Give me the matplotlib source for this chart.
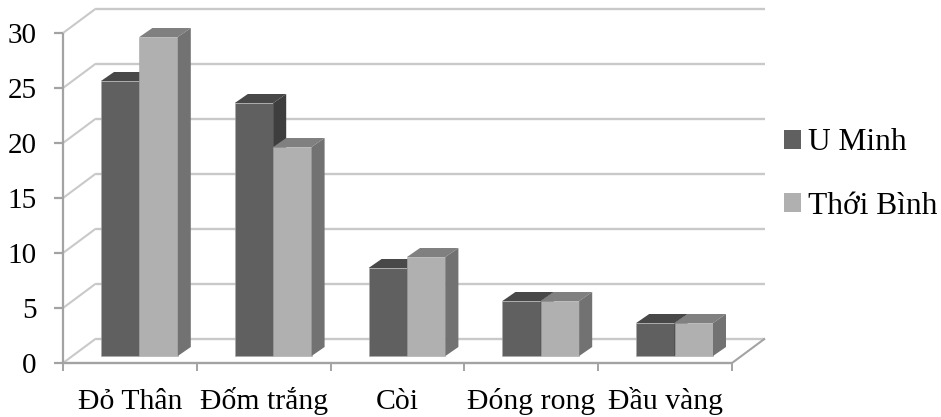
import matplotlib
matplotlib.use("Agg")
import matplotlib.pyplot as plt
from matplotlib.patches import Patch, Polygon

plt.rcParams["font.family"] = ["Liberation Serif", "DejaVu Sans"]

categories = ["Đỏ Thân", "Đốm trắng", "Còi", "Đóng rong", "Đầu vàng"]
u_minh = [25, 23, 8, 5, 3]
thoi_binh = [29, 19, 9, 5, 3]
y_ticks = [0, 5, 10, 15, 20, 25, 30]

W, H = 941, 417
LEFT, RIGHT, BOTTOM, TOP = 63, 732, 363, 33

fig = plt.figure(figsize=(W / 100, H / 100), dpi=100, facecolor="white")
ax = fig.add_axes([LEFT / W, 1 - BOTTOM / H, (RIGHT - LEFT) / W, (BOTTOM - TOP) / H])
ax.set_xlim(0, len(categories))
ax.set_ylim(0, 30)
ax.axis("off")

# Pixel sizes expressed in data units for the oblique projection
px_x = len(categories) / (RIGHT - LEFT)
px_y = 30 / (BOTTOM - TOP)
wall_dx, wall_dy = 33 * px_x, 24.5 * px_y
bar_dx, bar_dy = 13 * px_x, 9 * px_y
floor = 7 * px_y
bar_w = 38.4 * px_x
first_bar = 38 * px_x

GRID = "#c9c9c9"
AXIS = "#a3a3a3"
n = len(categories)


def line(xs, ys, color, lw=1.5, z=1):
    ax.plot(xs, ys, color=color, lw=lw, zorder=z, clip_on=False, solid_capstyle="butt")


# Back wall gridlines, left wall diagonals and the floor outline
for v in y_ticks:
    line([0, wall_dx], [v, v + wall_dy], GRID, 1.5, 1)
    line([wall_dx, n + wall_dx], [v + wall_dy, v + wall_dy], GRID, 1.7, 1)
    line([-9 * px_x, 0], [v, v], AXIS, 1.6, 2)
line([n, n + wall_dx], [0, wall_dy], AXIS, 1.5, 2)
line([0, 0], [0, 30], AXIS, 1.6, 2)
line([0, n], [0, 0], AXIS, 1.7, 2)
for i in range(n + 1):
    line([i, i], [0, -8 * px_y], AXIS, 1.4, 2)


def draw_bar(x, value, face, top, side, z):
    y0, y1 = floor, floor + value
    ax.bar(x, value, width=bar_w, bottom=y0, align="edge", color=face,
           edgecolor="#a8a8a8", linewidth=0.4, zorder=z, clip_on=False)
    ax.add_patch(Polygon([(x, y1), (x + bar_dx, y1 + bar_dy),
                          (x + bar_w + bar_dx, y1 + bar_dy), (x + bar_w, y1)],
                         facecolor=top, edgecolor="none", zorder=z, clip_on=False))
    ax.add_patch(Polygon([(x + bar_w, y0), (x + bar_w + bar_dx, y0 + bar_dy),
                          (x + bar_w + bar_dx, y1 + bar_dy), (x + bar_w, y1)],
                         facecolor=side, edgecolor="none", zorder=z, clip_on=False))


for i in range(n):
    x = i + first_bar
    draw_bar(x, u_minh[i], "#606060", "#484848", "#3e3e3e", 3 + i)
    draw_bar(x + bar_w, thoi_binh[i], "#b0b0b0", "#808080", "#727272", 3.5 + i)

for v in y_ticks:
    ax.text(-26.5 * px_x, v, str(v), ha="right", va="center_baseline",
            fontsize=21, color="black", clip_on=False)
for i, label in enumerate(categories):
    ax.text(i + 0.5, -46 * px_y, label, ha="center", va="baseline",
            fontsize=21.4, color="black", clip_on=False)

handles = [Patch(facecolor="#606060", label="U Minh"),
           Patch(facecolor="#b0b0b0", label="Thới Bình")]
fig.legend(handles=handles, loc="center left", bbox_to_anchor=(784 / W, 1 - 174.5 / H),
           frameon=False, fontsize=22.7, handlelength=0.54, handleheight=0.54,
           handletextpad=0.22, labelspacing=1.08, borderpad=0, borderaxespad=0)

fig.savefig("out.png", dpi=100, facecolor="white")
